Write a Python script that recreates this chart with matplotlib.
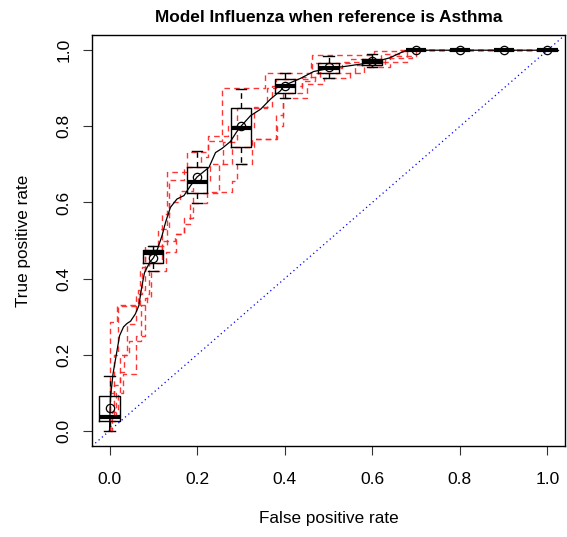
import matplotlib
matplotlib.use("Agg")
import matplotlib.pyplot as plt

plt.rcParams['font.family'] = ['Liberation Sans', 'DejaVu Sans']

# FPR positions where the spread of the folds is summarised
box_fpr = [0.0, 0.1, 0.2, 0.3, 0.4, 0.5, 0.6, 0.7, 0.8, 0.9, 1.0]
whisker_lo = [0.000, 0.420, 0.598, 0.700, 0.874, 0.927, 0.955, 1.0, 1.0, 1.0, 1.0]
box_q1 = [0.026, 0.441, 0.626, 0.747, 0.887, 0.939, 0.961, 1.0, 1.0, 1.0, 1.0]
box_med = [0.035, 0.466, 0.653, 0.795, 0.906, 0.953, 0.970, 1.0, 1.0, 1.0, 1.0]
box_q3 = [0.092, 0.475, 0.692, 0.847, 0.924, 0.967, 0.978, 1.0, 1.0, 1.0, 1.0]
whisker_hi = [0.144, 0.486, 0.734, 0.899, 0.940, 0.986, 0.990, 1.0, 1.0, 1.0, 1.0]
box_mean = [0.060, 0.455, 0.666, 0.800, 0.906, 0.955, 0.971, 1.0, 1.0, 1.0, 1.0]

# Vertically averaged ROC curve
avg_fpr = [0.000, 0.002, 0.008, 0.014, 0.023, 0.032, 0.040, 0.048, 0.059, 0.067,
           0.074, 0.080, 0.092, 0.100, 0.107, 0.120, 0.128, 0.139, 0.154, 0.170,
           0.185, 0.200, 0.214, 0.227, 0.242, 0.257, 0.276, 0.290, 0.300, 0.322,
           0.345, 0.368, 0.390, 0.400, 0.436, 0.466, 0.500, 0.535, 0.600, 0.640,
           0.664, 0.680, 0.700, 0.800, 0.900, 1.000]
avg_tpr = [0.000, 0.084, 0.150, 0.190, 0.250, 0.273, 0.282, 0.288, 0.307, 0.329,
           0.381, 0.416, 0.443, 0.454, 0.469, 0.513, 0.548, 0.587, 0.609, 0.618,
           0.644, 0.667, 0.680, 0.692, 0.731, 0.742, 0.760, 0.785, 0.800, 0.828,
           0.845, 0.872, 0.893, 0.908, 0.926, 0.944, 0.952, 0.957, 0.968, 0.980,
           0.993, 1.000, 1.000, 1.000, 1.000, 1.000]

# Per-fold ROC curves: corner points (tpr reached after the jump at that fpr)
fold1_fpr = [0.0, 0.0, 0.018, 0.070, 0.080, 0.131, 0.176, 0.226, 0.256, 0.356, 0.463, 0.603, 0.680, 1.0]
fold1_tpr = [0.0, 0.286, 0.328, 0.420, 0.486, 0.680, 0.733, 0.762, 0.900, 0.940, 0.987, 0.998, 1.000, 1.0]
fold2_fpr = [0.0, 0.0, 0.010, 0.020, 0.064, 0.080, 0.120, 0.135, 0.170, 0.210, 0.226, 0.270, 0.290,
             0.360, 0.380, 0.460, 0.550, 0.620, 0.660, 1.0]
fold2_tpr = [0.0, 0.100, 0.200, 0.330, 0.370, 0.475, 0.570, 0.660, 0.692, 0.720, 0.775, 0.800, 0.847,
             0.900, 0.924, 0.967, 0.978, 0.990, 1.000, 1.0]
fold3_fpr = [0.0, 0.0, 0.010, 0.024, 0.040, 0.060, 0.075, 0.090, 0.110, 0.135, 0.160, 0.190, 0.230,
             0.260, 0.290, 0.330, 0.370, 0.440, 0.480, 0.530, 0.640, 0.700, 1.0]
fold3_tpr = [0.0, 0.040, 0.120, 0.200, 0.280, 0.360, 0.430, 0.466, 0.530, 0.600, 0.630, 0.653, 0.700,
             0.760, 0.795, 0.850, 0.906, 0.930, 0.953, 0.970, 0.985, 1.000, 1.0]
fold4_fpr = [0.0, 0.0, 0.015, 0.025, 0.034, 0.044, 0.071, 0.085, 0.090, 0.120, 0.150, 0.170, 0.190,
             0.250, 0.280, 0.330, 0.380, 0.395, 0.440, 0.470, 0.560, 0.630, 0.690, 1.0]
fold4_tpr = [0.0, 0.026, 0.100, 0.155, 0.200, 0.237, 0.330, 0.360, 0.441, 0.500, 0.517, 0.560, 0.626,
             0.700, 0.747, 0.766, 0.830, 0.887, 0.920, 0.939, 0.961, 0.980, 1.000, 1.0]
fold5_fpr = [0.0, 0.005, 0.020, 0.030, 0.060, 0.080, 0.095, 0.130, 0.151, 0.169, 0.183, 0.223, 0.280,
             0.290, 0.326, 0.383, 0.395, 0.450, 0.490, 0.550, 0.580, 0.640, 0.680, 1.0]
fold5_tpr = [0.0, 0.050, 0.100, 0.150, 0.250, 0.350, 0.420, 0.470, 0.517, 0.543, 0.598, 0.627, 0.657,
             0.700, 0.766, 0.800, 0.874, 0.910, 0.927, 0.940, 0.955, 0.970, 1.000, 1.0]

folds = [(fold1_fpr, fold1_tpr), (fold2_fpr, fold2_tpr), (fold3_fpr, fold3_tpr),
         (fold4_fpr, fold4_tpr), (fold5_fpr, fold5_tpr)]

fig = plt.figure(figsize=(5.67, 5.37), dpi=100)
ax = fig.add_axes([92 / 567, 1 - 446 / 537, (565 - 92) / 567, (446 - 35) / 537])

# individual folds
for fx, fy in folds:
    ax.plot(fx, fy, drawstyle='steps-post', color='#ff2020', lw=1.0,
            linestyle=(0, (4, 3)), alpha=0.9, zorder=2)

# chance line
ax.axline((0, 0), (1, 1), color='blue', lw=0.9, linestyle=(0, (1, 2.5)), zorder=1)

# averaged curve
ax.plot(avg_fpr, avg_tpr, color='black', lw=0.9, zorder=3)

# boxplots of the spread
stats = []
for i in range(len(box_fpr)):
    stats.append(dict(whislo=whisker_lo[i], q1=box_q1[i], med=box_med[i],
                      q3=box_q3[i], whishi=whisker_hi[i], fliers=[]))
ax.bxp(stats, positions=box_fpr, widths=0.046, manage_ticks=False,
       showfliers=False, patch_artist=False,
       boxprops=dict(color='black', lw=1.0),
       whiskerprops=dict(color='black', lw=1.0, linestyle=(0, (4, 3))),
       capprops=dict(color='black', lw=1.0),
       medianprops=dict(color='black', lw=3.0, solid_capstyle='butt'),
       capwidths=0.023, zorder=4)
ax.plot(box_fpr, box_mean, linestyle='none', marker='o', ms=6,
        mfc='none', mec='black', mew=0.9, zorder=5)

ax.set_xlim(-0.04, 1.04)
ax.set_ylim(-0.04, 1.04)
ax.set_xticks([0.0, 0.2, 0.4, 0.6, 0.8, 1.0])
ax.set_yticks([0.0, 0.2, 0.4, 0.6, 0.8, 1.0])
ax.set_xticklabels(['0.0', '0.2', '0.4', '0.6', '0.8', '1.0'])
ax.set_yticklabels(['0.0', '0.2', '0.4', '0.6', '0.8', '1.0'], rotation=90, va='center')
ax.tick_params(axis='both', length=6.5, width=0.8, labelsize=12.5, color='#333333')
ax.tick_params(axis='x', pad=12.5)
ax.tick_params(axis='y', pad=8)
for s in ax.spines.values():
    s.set_linewidth(1.0)

ax.set_xlabel('False positive rate', fontsize=12.3, labelpad=17)
ax.set_ylabel('True positive rate', fontsize=12.3, labelpad=18.5)
ax.set_title('Model Influenza when reference is Asthma', fontsize=12.4,
             fontweight='bold', pad=9.5)

fig.savefig('out.png', dpi=100)
